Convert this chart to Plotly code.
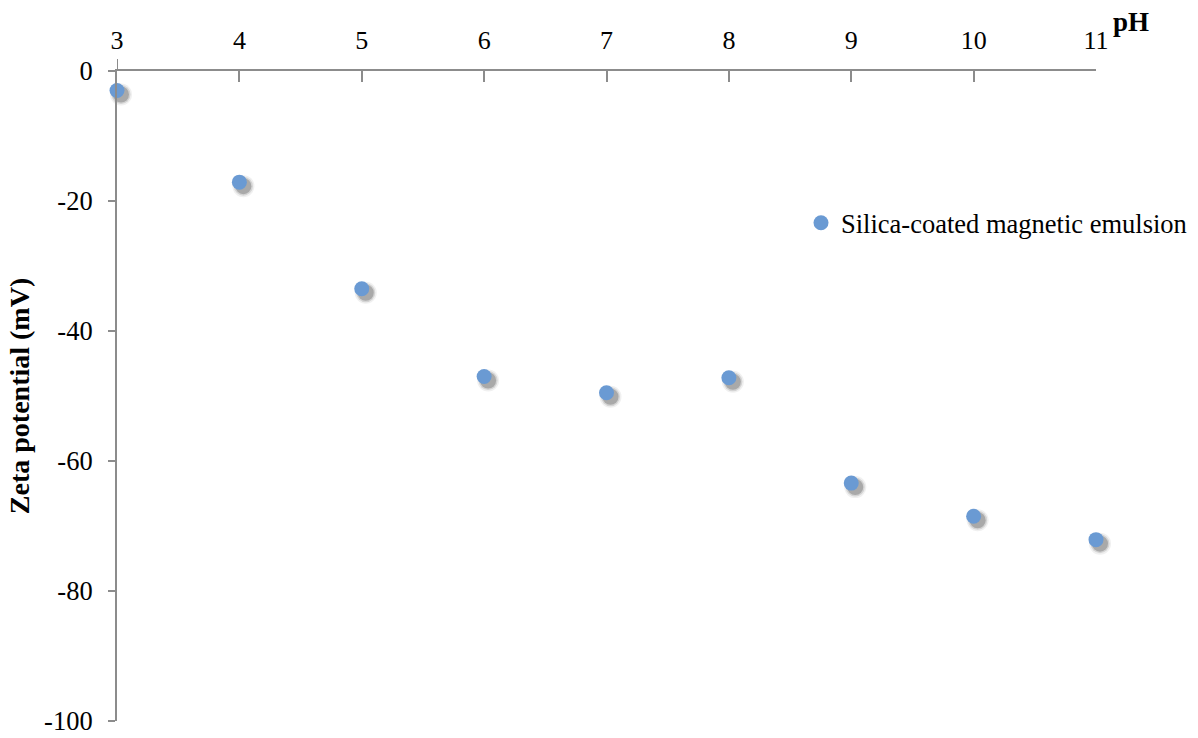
import plotly.graph_objects as go

# Data
ph = [3, 4, 5, 6, 7, 8, 9, 10, 11]
zeta = [-3.0, -17.1, -33.5, -47.0, -49.5, -47.2, -63.4, -68.5, -72.1]
series_name = "Silica-coated magnetic emulsion"
x_ticks = [3, 4, 5, 6, 7, 8, 9, 10, 11]
y_ticks = [0, -20, -40, -60, -80, -100]

FONT = "Liberation Serif, Times New Roman, serif"
AXIS_COLOR = "#8c8c8c"
MARKER_COLOR = "#6a9ad3"

# geometry (pixels)
W, H = 1198, 738
L, R_MAIN, R_PAPER = 117, 1096, 1198
T, B = 71, 721
plot_w = R_PAPER - L
main_w = R_MAIN - L
px_per_x = main_w / (x_ticks[-1] - x_ticks[0])
px_per_y = (B - T) / (y_ticks[0] - y_ticks[-1])
SH = 4  # shadow offset in px

x0 = x_ticks[0]
sh_x_range = [x0 - SH / px_per_x, x0 + (plot_w - SH) / px_per_x]
sh_y_range = [y_ticks[-1] + SH / px_per_y, y_ticks[0] + SH / px_per_y]

fig = go.Figure()

# soft drop shadow on a hidden, pixel-shifted subplot (layered to imitate blur)
for size, op in [(22, 0.07), (19, 0.14), (16, 0.26)]:
    fig.add_trace(go.Scatter(
        x=ph, y=zeta, xaxis="x", yaxis="y",
        mode="markers",
        marker=dict(size=size, color=f"rgba(45,45,45,{op})", line=dict(width=0)),
        showlegend=False, hoverinfo="skip", cliponaxis=False,
    ))

fig.add_trace(go.Scatter(
    x=ph, y=zeta, xaxis="x2", yaxis="y2", mode="markers", name=series_name,
    marker=dict(size=15, color=MARKER_COLOR, line=dict(width=0)),
    cliponaxis=False,
))

fig.update_layout(
    width=W, height=H,
    margin=dict(l=L, r=W - R_PAPER, t=T, b=H - B, autoexpand=False),
    paper_bgcolor="white", plot_bgcolor="rgba(0,0,0,0)",
    font=dict(family=FONT, size=26, color="black"),
    showlegend=True,
    legend=dict(
        x=(801 - L) / plot_w, y=1 - (223 - T) / (B - T),
        xanchor="left", yanchor="middle",
        bgcolor="rgba(0,0,0,0)", borderwidth=0,
        font=dict(family=FONT, size=26.5, color="black"),
        itemsizing="trace",
    ),
    # hidden shadow axes
    xaxis=dict(domain=[0, 1], range=sh_x_range, anchor="y",
               visible=False, automargin=False, fixedrange=True),
    yaxis=dict(domain=[0, 1], range=sh_y_range, anchor="x",
               visible=False, automargin=False, fixedrange=True),
    # visible axes
    xaxis2=dict(
        domain=[0, main_w / plot_w], anchor="y2",
        side="top", range=[x_ticks[0], x_ticks[-1]], tickvals=x_ticks,
        ticktext=[str(v) for v in x_ticks],
        showgrid=False, zeroline=False, automargin=False,
        showline=True, linecolor=AXIS_COLOR, linewidth=2,
        ticks="inside", ticklen=11, tickwidth=1.5, tickcolor=AXIS_COLOR,
        tickfont=dict(family=FONT, size=26, color="black"),
        ticklabelstandoff=10,
    ),
    yaxis2=dict(
        domain=[0, 1], anchor="x2",
        range=[y_ticks[-1], y_ticks[0]], tickvals=y_ticks,
        ticktext=[str(v) for v in y_ticks],
        showgrid=False, zeroline=False, automargin=False,
        showline=True, linecolor=AXIS_COLOR, linewidth=2,
        ticks="outside", ticklen=7, tickwidth=1.5, tickcolor=AXIS_COLOR,
        tickfont=dict(family=FONT, size=26.5, color="black"),
        ticklabelstandoff=10,
        title=dict(text="<b>Zeta potential (mV)</b>",
                   font=dict(family=FONT, size=28, color="black"),
                   standoff=6),
    ),
    annotations=[dict(
        text="<b>pH</b>", xref="paper", yref="paper",
        x=(1111 - L) / plot_w, y=1 + (T - 22) / (B - T),
        xanchor="left", yanchor="middle",
        showarrow=False, font=dict(family=FONT, size=27, color="black"),
    )],
    shapes=[dict(
        type="line", xref="x2", yref="paper",
        x0=x_ticks[0], x1=x_ticks[0], y0=1, y1=1 + 12 / (B - T),
        line=dict(color=AXIS_COLOR, width=2),
    )],
)

fig.write_html("out.html", config={"displayModeBar": False},
               post_script="document.body.style.margin='0px';")
